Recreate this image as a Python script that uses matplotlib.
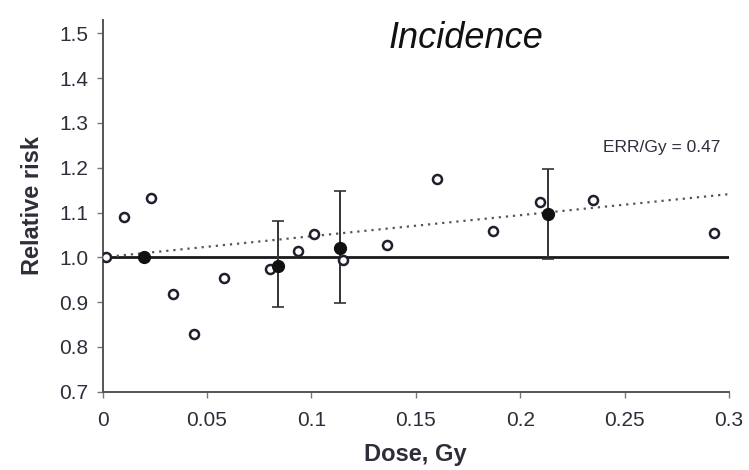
import matplotlib
matplotlib.use("Agg")
import matplotlib.pyplot as plt
import numpy as np

# Individual-stratum relative risks (open circles)
dose_pts = [0.0017, 0.0101, 0.0234, 0.0338, 0.0438, 0.0583, 0.0802, 0.0938,
            0.1013, 0.1153, 0.136, 0.160, 0.187, 0.2097, 0.2348, 0.293]
rr_pts = [1.000, 1.091, 1.132, 0.917, 0.829, 0.953, 0.974, 1.013,
          1.052, 0.995, 1.028, 1.174, 1.058, 1.123, 1.128, 1.054]

# Grouped estimates with confidence intervals (filled circles)
dose_grp = [0.020, 0.0842, 0.1136, 0.2134]
rr_grp = [1.000, 0.980, 1.021, 1.097]
ci_low = [1.000, 0.890, 0.898, 0.997]
ci_high = [1.000, 1.080, 1.148, 1.198]

err_per_gy = 0.47
x_ticks = [0, 0.05, 0.1, 0.15, 0.2, 0.25, 0.3]
x_tick_labels = ["0", "0.05", "0.1", "0.15", "0.2", "0.25", "0.3"]
y_ticks = [0.7, 0.8, 0.9, 1.0, 1.1, 1.2, 1.3, 1.4, 1.5]

plt.rcParams['font.family'] = ['Liberation Sans', 'DejaVu Sans']
txt = '#2e2e3a'

fig = plt.figure(figsize=(7.49, 4.70), dpi=100)
ax = fig.add_axes([0.1369, 0.1666, 0.8364, 0.7911])

# Reference line RR = 1
ax.plot([0, 0.3], [1.0, 1.0], color='#1a1a1a', lw=2.0, zorder=2)

# Linear fit: RR = 1 + ERR/Gy * dose
fx = np.array([0, 0.3])
ax.plot(fx, 1 + err_per_gy * fx, color='#555555', lw=1.6, ls=(0, (1, 2.2)), zorder=2)

# Confidence intervals
lo = np.array(rr_grp) - np.array(ci_low)
hi = np.array(ci_high) - np.array(rr_grp)
ax.errorbar(dose_grp, rr_grp, yerr=[lo, hi], fmt='none', ecolor='#333333',
            elinewidth=1.4, capsize=4, capthick=1.2, zorder=3)

ax.plot(dose_pts, rr_pts, 'o', ms=6.5, mfc='white', mec='#1f1f2e', mew=1.8,
        ls='none', zorder=4)
ax.plot(dose_grp, rr_grp, 'o', ms=8.5, mfc='#111111', mec='#111111', ls='none', zorder=5)

ax.set_xlim(0, 0.3)
ax.set_ylim(0.7, 1.53)
ax.set_xticks(x_ticks)
ax.set_xticklabels(x_tick_labels)
ax.set_yticks(y_ticks)
ax.set_yticklabels([f"{v:.1f}" for v in y_ticks])

for s in ['top', 'right']:
    ax.spines[s].set_visible(False)
for s in ['left', 'bottom']:
    ax.spines[s].set_color('#555555')
    ax.spines[s].set_linewidth(1.4)

ax.tick_params(axis='both', direction='out', length=4, width=1, color='#777777',
               labelsize=15, labelcolor=txt)
ax.tick_params(axis='x', pad=10)
ax.tick_params(axis='y', pad=6)

ax.set_xlabel("Dose, Gy", fontsize=17, fontweight='bold', color=txt, labelpad=9)
ax.set_ylabel("Relative risk", fontsize=17, fontweight='bold', color=txt, labelpad=11)

ax.text(0.1739, 1.468, "Incidence", fontsize=26, style='italic', color='#111111',
        ha='center', va='baseline')
ax.text(0.296, 1.245, f"ERR/Gy = {err_per_gy}", fontsize=12.5, color=txt,
        ha='right', va='center')

fig.savefig("out.png", dpi=100)
